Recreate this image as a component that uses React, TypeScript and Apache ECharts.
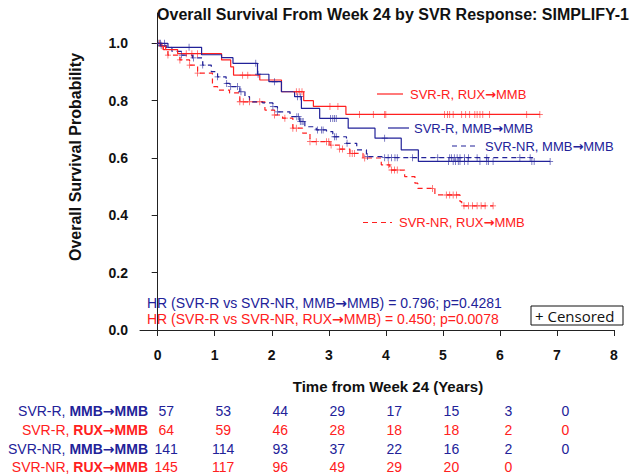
import React, { useEffect, useRef } from "react";
import * as echarts from "echarts";

const BLUE = "#222299";
const RED = "#ff2020";
const FONT = "'Liberation Sans', Arial, Helvetica, sans-serif";
const ARROW_FONT = "'DejaVu Sans', sans-serif";

const xTicks = [0, 1, 2, 3, 4, 5, 6, 7, 8];
const yTicks = [0, 0.2, 0.4, 0.6, 0.8, 1.0];

// SVR-R, MMB->MMB (blue solid)
const rMmbTimes = [0, 0.18, 0.77, 1.12, 1.32, 1.75, 1.95, 2.17, 2.4, 2.52, 2.84, 3.34, 3.81, 4.27, 4.57, 6.88];
const rMmbSurv = [1, 0.986, 0.96, 0.95, 0.93, 0.892, 0.866, 0.831, 0.814, 0.773, 0.738, 0.704, 0.669, 0.628, 0.588, 0.588];
const rMmbCensor = [0.05, 0.12, 0.55, 1.72, 1.76, 2.05, 2.45, 2.5, 3.03, 3.07, 3.1, 3.13, 3.98, 5.1, 5.18, 5.22, 5.27, 5.3, 5.38, 5.44, 5.65, 5.77, 5.8, 5.88, 6.56, 6.6, 6.88];

// SVR-R, RUX->MMB (red solid)
const rRuxTimes = [0, 0.06, 0.14, 0.35, 1.12, 1.28, 1.33, 1.79, 2.17, 2.56, 2.73, 3.3, 6.7];
const rRuxSurv = [1, 0.99, 0.978, 0.964, 0.942, 0.918, 0.889, 0.872, 0.831, 0.8, 0.78, 0.752, 0.752];
const rRuxCensor = [0.5, 0.6, 0.7, 1.49, 1.58, 2.43, 2.48, 2.53, 3.02, 3.16, 3.54, 3.78, 3.98, 4.0, 5.03, 5.08, 5.12, 5.18, 5.33, 5.4, 5.47, 5.56, 5.6, 5.65, 5.7, 5.82, 6.47, 6.7];

// SVR-NR, MMB->MMB (blue dashed)
const nrMmbTimes = [0, 0.05, 0.15, 0.25, 0.42, 0.61, 0.79, 0.94, 1.05, 1.2, 1.26, 1.44, 1.53, 1.61, 1.84, 2.02, 2.1, 2.32, 2.49, 2.58, 2.78, 2.96, 3.07, 3.31, 3.49, 3.66, 3.95, 6.58];
const nrMmbSurv = [1, 0.993, 0.986, 0.972, 0.959, 0.949, 0.924, 0.901, 0.883, 0.86, 0.849, 0.831, 0.814, 0.796, 0.792, 0.779, 0.761, 0.744, 0.727, 0.709, 0.698, 0.692, 0.674, 0.651, 0.628, 0.605, 0.601, 0.601];
const nrMmbCensor = [0.02, 0.06, 0.42, 0.63, 0.79, 1.05, 1.21, 1.28, 1.4, 1.46, 2.02, 2.1, 2.44, 2.47, 2.5, 2.53, 2.55, 2.8, 2.87, 2.9, 3.1, 3.13, 3.32, 3.68, 3.98, 4.04, 4.1, 4.16, 4.2, 4.47, 4.91, 5.12, 5.15, 5.2, 5.25, 5.3, 5.38, 5.45, 5.6, 5.77, 6.35, 6.53];

// SVR-NR, RUX->MMB (red dashed)
const nrRuxTimes = [0, 0.05, 0.1, 0.18, 0.39, 0.56, 0.7, 0.96, 1.05, 1.26, 1.44, 1.88, 2.05, 2.19, 2.37, 2.54, 2.67, 3.02, 3.19, 3.37, 3.6, 3.92, 4.07, 4.33, 4.51, 4.56, 4.86, 5.3, 5.33, 5.88];
const nrRuxSurv = [1, 0.99, 0.978, 0.959, 0.942, 0.924, 0.896, 0.849, 0.837, 0.827, 0.796, 0.767, 0.75, 0.739, 0.704, 0.687, 0.657, 0.645, 0.631, 0.616, 0.6, 0.576, 0.558, 0.535, 0.512, 0.494, 0.471, 0.448, 0.433, 0.433];
const nrRuxCensor = [0.03, 0.08, 0.18, 0.39, 0.56, 0.7, 1.44, 1.5, 1.61, 1.79, 2.05, 2.23, 2.37, 2.43, 2.67, 2.78, 2.96, 3.0, 3.04, 3.19, 3.24, 3.37, 3.41, 3.45, 3.63, 4.05, 4.1, 4.15, 4.2, 4.82, 5.06, 5.12, 5.18, 5.24, 5.37, 5.45, 5.52, 5.6, 5.67, 5.74, 5.88];

// Number at risk
const riskTimes = [0, 1, 2, 3, 4, 5, 6, 7];
const riskPrefixes = ["SVR-R, ", "SVR-R, ", "SVR-NR, ", "SVR-NR, "];
const riskArms = ["MMB→MMB", "RUX→MMB", "MMB→MMB", "RUX→MMB"];
const riskColors = [BLUE, RED, BLUE, RED];
const riskRmmb = [57, 53, 44, 29, 17, 15, 3, 0];
const riskRrux = [64, 59, 46, 28, 18, 18, 2, 0];
const riskNRmmb = [141, 114, 93, 37, 22, 16, 2, 0];
const riskNRrux = [145, 117, 96, 49, 29, 20, 0];
const riskRows = [riskRmmb, riskRrux, riskNRmmb, riskNRrux];

const hrTexts = [
  "HR (SVR-R vs SVR-NR, MMB→MMB) = 0.796; p=0.4281",
  "HR (SVR-R vs SVR-NR, RUX→MMB) = 0.450; p=0.0078",
];

const PLUS = "path://M4.4,0H5.6V4.4H10V5.6H5.6V10H4.4V5.6H0V4.4H4.4Z";

function steps(times: number[], surv: number[]) {
  return times.map((t, i) => [t, surv[i]]);
}
function survAt(times: number[], surv: number[], t: number) {
  let s = surv[0];
  for (let i = 0; i < times.length; i++) if (times[i] <= t) s = surv[i];
  return s;
}
function censors(times: number[], surv: number[], cs: number[]) {
  return cs.map((t) => [t, survAt(times, surv, t)]);
}
// split a text around arrows into rich segments
function arrowRich(s: string, key = "t") {
  return s
    .split("→")
    .map((p) => (p ? `{${key}|${p}}` : ""))
    .join("{r|→}");
}

export default function App() {
  const ref = useRef<HTMLDivElement>(null);
  useEffect(() => {
    if (!ref.current) return;
    const chart = echarts.init(ref.current, undefined, { renderer: "svg" });
    const axisColor = "#222";
    const lineSeries = (name: string, data: number[][], color: string, dashed: boolean) => ({
      name,
      type: "line",
      step: "end",
      data,
      symbol: "none",
      lineStyle: { color, width: 1.2, type: dashed ? [5, 4] : "solid" },
      z: 2,
    });
    const censorSeries = (name: string, data: number[][], color: string) => ({
      name,
      type: "scatter",
      data,
      symbol: PLUS,
      symbolSize: [6, 7],
      itemStyle: { color },
      z: 3,
    });
    chart.setOption({
      animation: false,
      title: {
        text: "Overall Survival From Week 24 by SVR Response: SIMPLIFY-1",
        left: 388,
        top: 1,
        textAlign: "center",
        textStyle: { fontFamily: FONT, fontSize: 16, fontWeight: "bold", color: "#111" },
      },
      grid: { left: 140, right: 19, top: 13, bottom: 140 },
      xAxis: {
        type: "value",
        min: -0.31,
        max: 8,
        splitLine: { show: false },
        axisLine: { show: true, lineStyle: { color: axisColor, width: 1 } },
        axisTick: { show: true, customValues: xTicks, length: 6, lineStyle: { color: axisColor } },
        axisLabel: {
          customValues: xTicks,
          formatter: (v: number) => String(Math.round(v)),
          fontFamily: FONT,
          fontSize: 14,
          fontWeight: "bold",
          color: "#111",
          margin: 13,
        },
      },
      yAxis: {
        type: "value",
        min: -0.0174,
        max: 1.1057,
        splitLine: { show: false },
        axisLine: { show: true, lineStyle: { color: axisColor, width: 1 } },
        axisTick: { show: true, customValues: yTicks, length: 6, lineStyle: { color: axisColor } },
        axisLabel: {
          customValues: yTicks,
          formatter: (v: number) => v.toFixed(1),
          fontFamily: FONT,
          fontSize: 14,
          fontWeight: "bold",
          color: "#111",
          margin: 12,
        },
      },
      series: [
        lineSeries("SVR-NR, RUX→MMB", steps(nrRuxTimes, nrRuxSurv), RED, true),
        lineSeries("SVR-NR, MMB→MMB", steps(nrMmbTimes, nrMmbSurv), BLUE, true),
        lineSeries("SVR-R, RUX→MMB", steps(rRuxTimes, rRuxSurv), RED, false),
        lineSeries("SVR-R, MMB→MMB", steps(rMmbTimes, rMmbSurv), BLUE, false),
        censorSeries("c1", censors(nrRuxTimes, nrRuxSurv, nrRuxCensor), RED),
        censorSeries("c2", censors(nrMmbTimes, nrMmbSurv, nrMmbCensor), BLUE),
        censorSeries("c3", censors(rRuxTimes, rRuxSurv, rRuxCensor), RED),
        censorSeries("c4", censors(rMmbTimes, rMmbSurv, rMmbCensor), BLUE),
      ],
    });

    const px = (t: number) => chart.convertToPixel({ xAxisIndex: 0 }, t) as number;
    const richText = (x: number, y: number, s: string, fill: string, size: number, align = "left") => ({
      type: "text",
      x,
      y,
      silent: true,
      style: {
        text: arrowRich(s),
        textAlign: align,
        align,
        textVerticalAlign: "middle",
        verticalAlign: "middle",
        rich: {
          t: { fill, fontFamily: FONT, fontSize: size },
          r: { fill, fontFamily: ARROW_FONT, fontSize: size, fontWeight: "bold" },
        },
      },
    });
    const txt = (x: number, y: number, text: string, fill: string, extra: any = {}) => ({
      type: "text",
      x,
      y,
      silent: true,
      style: {
        text,
        fill,
        fontFamily: FONT,
        fontSize: 13,
        textAlign: "left",
        align: "left",
        textVerticalAlign: "middle",
        verticalAlign: "middle",
        ...extra,
      },
    });
    const seg = (x1: number, x2: number, y: number, color: string, dashed: boolean) => ({
      type: "line",
      silent: true,
      shape: { x1, y1: y, x2, y2: y },
      style: { stroke: color, lineWidth: 1.2, lineDash: dashed ? [5, 4] : null },
    });

    const graphics: any[] = [
      // y axis title
      {
        type: "text",
        x: 75,
        y: 157,
        rotation: Math.PI / 2,
        silent: true,
        style: {
          text: "Overall Survival Probability",
          fill: "#111",
          fontFamily: FONT,
          fontSize: 16,
          fontWeight: "bold",
          textAlign: "center",
          align: "center",
          textVerticalAlign: "middle",
          verticalAlign: "middle",
        },
      },
      // x axis title
      txt(388, 386, "Time from Week 24 (Years)", "#111", {
        fontWeight: "bold",
        fontSize: 15,
        textAlign: "center",
        align: "center",
      }),
      // in-plot curve labels
      seg(377, 403, 94, RED, false),
      richText(410, 94, "SVR-R, RUX→MMB", RED, 13),
      seg(388, 409, 128, BLUE, false),
      richText(414, 128, "SVR-R, MMB→MMB", BLUE, 13),
      seg(452, 477, 146, BLUE, true),
      richText(485, 146, "SVR-NR, MMB→MMB", BLUE, 13),
      seg(363, 392, 222.5, RED, true),
      richText(399, 222, "SVR-NR, RUX→MMB", RED, 13),
      // hazard ratios
      richText(147, 302.5, hrTexts[0], BLUE, 14),
      richText(147, 319, hrTexts[1], RED, 14),
      // censored legend box
      {
        type: "rect",
        silent: true,
        shape: { x: 531, y: 306, width: 92, height: 19 },
        style: { fill: "#fff", stroke: "#111", lineWidth: 1 },
      },
      txt(535, 315.5, "+ Censored", "#111", { fontFamily: "'Open Sans', sans-serif", fontSize: 15 }),
    ];

    const rowY = [411, 430, 449, 467];
    riskRows.forEach((row, r) => {
      const fill = riskColors[r];
      graphics.push({
        type: "text",
        x: 148,
        y: rowY[r],
        silent: true,
        style: {
          text: `{p|${riskPrefixes[r]}}` + arrowRich(riskArms[r], "a"),
          textAlign: "right",
          align: "right",
          textVerticalAlign: "middle",
          verticalAlign: "middle",
          rich: {
            p: { fill, fontFamily: FONT, fontSize: 14 },
            a: { fill, fontFamily: FONT, fontSize: 14, fontWeight: "bold" },
            r: { fill, fontFamily: ARROW_FONT, fontSize: 14, fontWeight: "bold" },
          },
        },
      });
      row.forEach((n, i) => {
        graphics.push(
          txt(px(riskTimes[i]) + 8.5, rowY[r], String(n), fill, {
            fontSize: 14,
            textAlign: "center",
            align: "center",
          })
        );
      });
    });

    chart.setOption({ graphic: { elements: graphics } });
    return () => chart.dispose();
  }, []);
  return (
    <div
      ref={ref}
      style={{ position: "absolute", left: 0, top: 0, width: 633, height: 475, background: "#fff" }}
    />
  );
}
